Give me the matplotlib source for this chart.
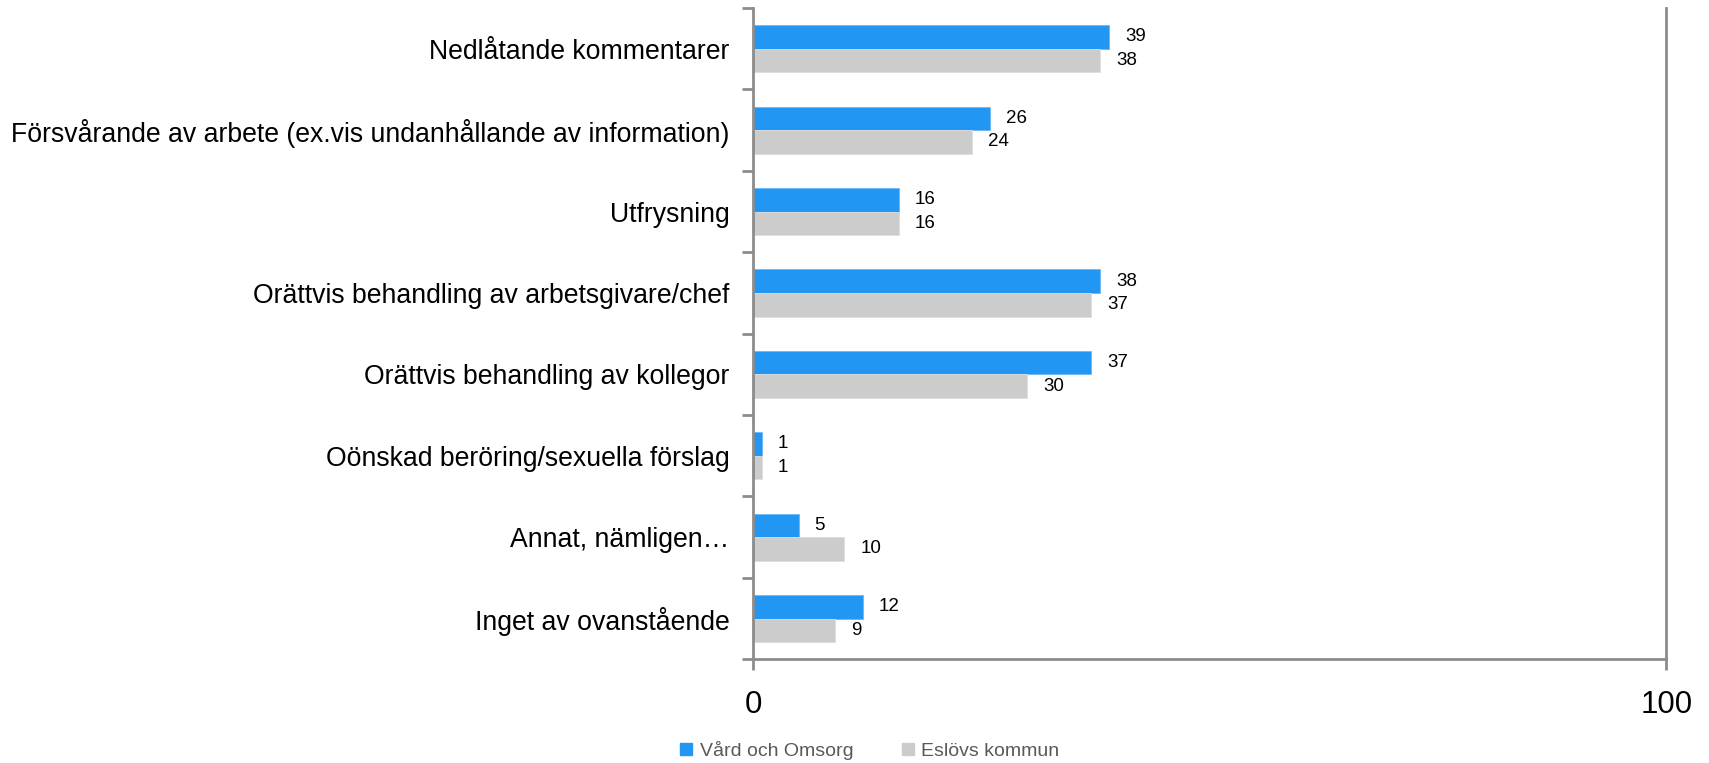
import matplotlib
matplotlib.use("Agg")
import matplotlib.pyplot as plt
import numpy as np
from matplotlib.lines import Line2D

plt.rcParams['font.family'] = ['Liberation Sans', 'DejaVu Sans']

categories = [
    "Nedlåtande kommentarer",
    "Försvårande av arbete (ex.vis undanhållande av information)",
    "Utfrysning",
    "Orättvis behandling av arbetsgivare/chef",
    "Orättvis behandling av kollegor",
    "Oönskad beröring/sexuella förslag",
    "Annat, nämligen…",
    "Inget av ovanstående",
]
vard_och_omsorg = [39, 26, 16, 38, 37, 1, 5, 12]
eslovs_kommun = [38, 24, 16, 37, 30, 1, 10, 9]
series_names = ["Vård och Omsorg", "Eslövs kommun"]
x_ticks = [0, 100]

blue = "#2196F3"
gray = "#CCCCCC"
axis_col = "#8C8C8C"

fig = plt.figure(figsize=(17.09, 7.63), dpi=100)
ax = fig.add_axes([0.4406, 0.136, 0.975 - 0.4406, 0.9895 - 0.136])

y = np.arange(len(categories))
h = 0.29
ax.barh(y - h / 2, vard_och_omsorg, height=h, color=blue, edgecolor="#6BB8F7", linewidth=0.6)
ax.barh(y + h / 2, eslovs_kommun, height=h, color=gray, edgecolor="#DDDDDD", linewidth=0.6)

for yi, v in zip(y, vard_och_omsorg):
    ax.annotate(str(v), (v, yi - h / 2), xytext=(16, 0), textcoords="offset pixels",
                va="center", ha="left", fontsize=13.5, color="#000000")
for yi, v in zip(y, eslovs_kommun):
    ax.annotate(str(v), (v, yi + h / 2), xytext=(16, 0), textcoords="offset pixels",
                va="center", ha="left", fontsize=13.5, color="#000000")

ax.set_xlim(0, 100)
ax.set_ylim(len(categories) - 0.5, -0.5)
ax.set_xticks(x_ticks)
ax.set_xticklabels([str(t) for t in x_ticks], fontsize=22.5)
ax.set_yticks(y)
ax.set_yticklabels(categories, fontsize=19.2)
ax.set_yticks(np.arange(-0.5, len(categories), 1.0), minor=True)
ax.tick_params(axis="y", which="major", length=0, pad=17)
ax.tick_params(axis="y", which="minor", length=8, width=2, color=axis_col, direction="out")
ax.tick_params(axis="x", which="major", length=8, width=2, color=axis_col, direction="out", pad=14)

for s in ["left", "bottom", "right"]:
    ax.spines[s].set_color(axis_col)
    ax.spines[s].set_linewidth(2)
ax.spines["top"].set_visible(False)

handles = [Line2D([0], [0], marker='s', linestyle='none', markersize=9, markerfacecolor=blue, markeredgecolor=blue),
           Line2D([0], [0], marker='s', linestyle='none', markersize=9, markerfacecolor=gray, markeredgecolor=gray)]
fig.legend(handles, series_names, loc="center", bbox_to_anchor=(0.505, 0.016), ncol=2, frameon=False,
           fontsize=14, labelcolor="#595959", handletextpad=-0.3, columnspacing=1.8)

fig.savefig("out.png", dpi=100, facecolor="white")
